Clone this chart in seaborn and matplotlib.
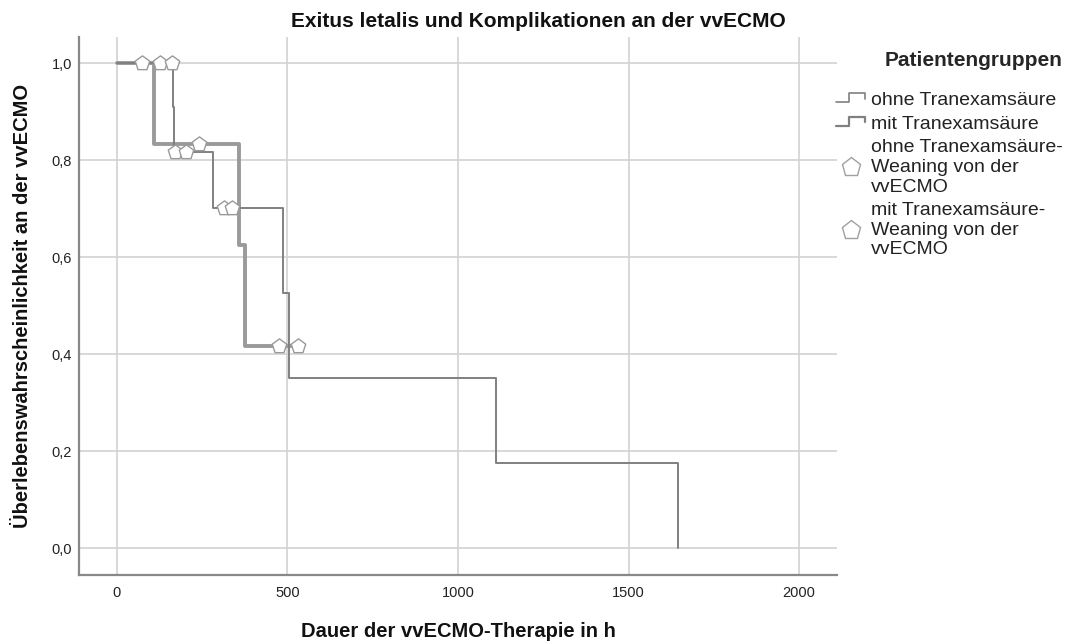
import matplotlib
matplotlib.use("Agg")
import matplotlib.pyplot as plt
from matplotlib.legend_handler import HandlerBase
from matplotlib.lines import Line2D
import pandas as pd
import seaborn as sns

# Kaplan-Meier step points (time in h, survival)
ohne_times = [0, 164, 168, 282, 487, 504, 1111, 1645]
ohne_surv = [1.0, 0.909, 0.818, 0.701, 0.526, 0.351, 0.175, 0.0]
mit_times = [0, 108, 358, 376, 531]
mit_surv = [1.0, 0.833, 0.625, 0.417, 0.417]

# censored observations (Weaning von der vvECMO)
ohne_cens_times = [126, 161, 170, 202, 314, 337]
ohne_cens_surv = [1.0, 1.0, 0.818, 0.818, 0.701, 0.701]
mit_cens_times = [73, 240, 475, 531]
mit_cens_surv = [1.0, 0.833, 0.417, 0.417]

group_labels = ["ohne Tranexamsäure", "mit Tranexamsäure",
                "ohne Tranexamsäure-\nWeaning von der\nvvECMO",
                "mit Tranexamsäure-\nWeaning von der\nvvECMO"]

THIN = "#808080"
THICK = "#9a9a9a"

sns.set_theme(style="whitegrid")
plt.rcParams["font.family"] = ["Liberation Sans", "DejaVu Sans"]


class StepHandler(HandlerBase):
    def __init__(self, color, lw):
        super().__init__()
        self.color = color
        self.lw = lw

    def create_artists(self, legend, orig_handle, xdescent, ydescent,
                       width, height, fontsize, trans):
        x0, y0 = -xdescent, -ydescent
        xs = [x0, x0 + 0.45 * width, x0 + 0.45 * width, x0 + width, x0 + width]
        ys = [y0 + 0.2 * height, y0 + 0.2 * height, y0 + 0.85 * height,
              y0 + 0.85 * height, y0 + 0.45 * height]
        line = Line2D(xs, ys, color=self.color, lw=self.lw, transform=trans)
        return [line]


ohne = pd.DataFrame({"t": ohne_times, "s": ohne_surv})
mit = pd.DataFrame({"t": mit_times, "s": mit_surv})
ohne_c = pd.DataFrame({"t": ohne_cens_times, "s": ohne_cens_surv})
mit_c = pd.DataFrame({"t": mit_cens_times, "s": mit_cens_surv})

fig = plt.figure(figsize=(10.76, 6.41), dpi=100)
ax = fig.add_axes([0.0734, 0.103, 0.7045, 0.839])

sns.lineplot(data=mit, x="t", y="s", estimator=None, drawstyle="steps-post",
             color=THICK, linewidth=2.8, ax=ax, zorder=3)
sns.lineplot(data=ohne, x="t", y="s", estimator=None, drawstyle="steps-post",
             color=THIN, linewidth=1.4, ax=ax, zorder=4)
sns.scatterplot(data=ohne_c, x="t", y="s", marker="p", s=120, color="white",
                edgecolor="#9a9a9a", linewidth=1.0, ax=ax, zorder=5)
sns.scatterplot(data=mit_c, x="t", y="s", marker="p", s=120, color="white",
                edgecolor="#9a9a9a", linewidth=1.0, ax=ax, zorder=5)

ax.set_xlim(-111, 2111)
ax.set_ylim(-0.055, 1.054)
ax.set_xticks([0, 500, 1000, 1500, 2000])
ax.set_yticks([0, 0.2, 0.4, 0.6, 0.8, 1.0])
ax.set_yticklabels(["0,0", "0,2", "0,4", "0,6", "0,8", "1,0"])
ax.tick_params(labelsize=10.5, colors="#222222", length=0)
ax.tick_params(axis="x", pad=8)
ax.tick_params(axis="y", pad=5)
ax.grid(True, color="#d2d2d2", linewidth=1.2)
ax.set_facecolor("white")
for side in ["top", "right"]:
    ax.spines[side].set_visible(False)
for side in ["left", "bottom"]:
    ax.spines[side].set_color("#888888")
    ax.spines[side].set_linewidth(1.6)

fig.suptitle("Exitus letalis und Komplikationen an der vvECMO",
             x=0.5, y=0.967, va="center", fontsize=15, fontweight="bold",
             color="#111111")
ax.set_xlabel("Dauer der vvECMO-Therapie in h", fontsize=14.5,
              fontweight="bold", labelpad=16, color="#111111")
ax.set_ylabel("Überlebenswahrscheinlichkeit an der vvECMO", fontsize=14.5,
              fontweight="bold", labelpad=14, color="#111111")

h_ohne = Line2D([], [])
h_mit = Line2D([], [], linestyle="-")
h_c1 = Line2D([], [], linestyle="none", marker="p", markersize=14,
              markerfacecolor="white", markeredgecolor="#a0a0a0", markeredgewidth=1.0)
h_c2 = Line2D([], [], linestyle="none", marker="p", markersize=14,
              markerfacecolor="white", markeredgecolor="#a0a0a0", markeredgewidth=1.0)
leg = fig.legend([h_ohne, h_mit, h_c1, h_c2], group_labels,
                 handler_map={h_ohne: StepHandler(THIN, 1.2),
                              h_mit: StepHandler(THIN, 1.6)},
                 loc="upper left", bbox_to_anchor=(0.777, 0.92),
                 frameon=False, fontsize=14, title="Patientengruppen",
                 title_fontproperties={"weight": "bold", "size": 15},
                 alignment="right",
                 handlelength=1.5, handletextpad=0.3, labelspacing=0.32,
                 borderaxespad=0, borderpad=0)
leg._legend_box.sep = 15
for txt in leg.get_texts():
    txt.set_linespacing(1.22)
    txt.set_color("#222222")

fig.savefig("out.png", dpi=100, facecolor="white")
